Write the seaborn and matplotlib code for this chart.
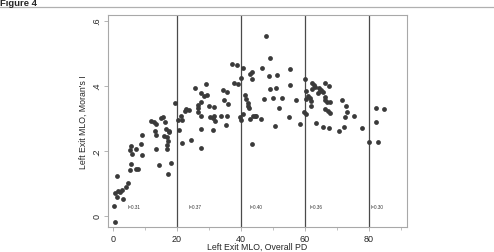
import matplotlib
matplotlib.use("Agg")
import matplotlib.pyplot as plt
import pandas as pd
import seaborn as sns
from matplotlib.lines import Line2D
from matplotlib.ticker import MultipleLocator

# Left Exit MLO: overall PD vs Moran's I
pd_vals = [
    0.5, 0.3, 1.1, 0.5, 1.4, 2.1, 2.8, 3.9, 4.5, 1.1, 3.1, 5.2, 7.0, 7.8, 5.5,
    5.8, 5.2, 5.5, 7.1, 8.7, 9.1, 8.9, 13.3, 14.4, 13.0, 13.3, 12.8, 13.3, 12.0,
    15.1, 15.6, 16.2, 15.9, 16.5, 16.7, 17.2, 16.7, 17.0, 18.0, 17.2, 17.6,
    19.3, 17.4,
    20.3, 21.2, 21.4, 20.5, 21.6, 24.5, 22.9, 23.8, 22.6, 25.5, 29.2, 27.6,
    28.4, 29.3, 27.4, 26.6, 26.6, 29.9, 31.6, 26.4, 27.4, 30.2, 31.1, 31.5,
    32.0, 33.7, 27.4, 31.1, 27.4, 34.4, 35.6, 34.7, 35.9, 35.6, 35.2, 37.3,
    38.9, 37.7, 39.1, 39.6,
    40.6, 42.7, 43.3, 43.4, 40.1, 41.2, 41.7, 42.1, 42.2, 42.5, 40.1, 40.6,
    42.9, 43.8, 44.3, 44.6, 43.4, 47.9, 49.2, 46.7, 48.8, 51.3, 55.4, 49.2,
    51.1, 55.2, 47.2, 50.0, 52.8, 57.3, 51.8, 55.0, 50.5, 58.6, 46.4, 59.7,
    60.1, 60.4, 62.2, 62.8, 62.2, 63.3, 64.3, 64.6, 65.1, 65.6, 66.2, 67.5,
    60.9, 61.5, 62.0, 64.1, 66.2, 66.4, 66.9, 68.0, 60.4, 62.0, 60.2, 66.2,
    67.2, 67.9, 71.7, 72.7, 73.1, 72.6, 75.3, 63.6, 65.6, 67.4, 70.8, 72.1,
    77.8,
    80.0, 82.8, 82.1, 84.8, 82.1,
]
morans_i = [
    -0.020, 0.031, 0.123, 0.070, 0.075, 0.074, 0.080, 0.089, 0.100, 0.057,
    0.051, 0.141, 0.144, 0.144, 0.159, 0.190, 0.203, 0.214, 0.205, 0.221,
    0.248, 0.187, 0.207, 0.156, 0.262, 0.248, 0.289, 0.282, 0.292, 0.300,
    0.303, 0.289, 0.246, 0.267, 0.241, 0.231, 0.218, 0.207, 0.161, 0.128,
    0.262, 0.346, 0.257,
    0.295, 0.308, 0.295, 0.265, 0.223, 0.234, 0.328, 0.326, 0.323, 0.392,
    0.405, 0.378, 0.369, 0.372, 0.351, 0.341, 0.330, 0.338, 0.335, 0.318,
    0.306, 0.303, 0.301, 0.306, 0.292, 0.308, 0.267, 0.265, 0.209, 0.388,
    0.382, 0.357, 0.345, 0.306, 0.279, 0.468, 0.464, 0.408, 0.405, 0.303,
    0.455, 0.436, 0.441, 0.421, 0.424, 0.372, 0.359, 0.347, 0.337, 0.330,
    0.295, 0.313, 0.298, 0.306, 0.308, 0.306, 0.221, 0.554, 0.485, 0.454,
    0.431, 0.433, 0.451, 0.390, 0.393, 0.403, 0.359, 0.362, 0.361, 0.357,
    0.331, 0.303, 0.277, 0.282, 0.298, 0.320,
    0.421, 0.385, 0.407, 0.402, 0.390, 0.395, 0.392, 0.385, 0.388, 0.382,
    0.408, 0.400, 0.367, 0.361, 0.354, 0.377, 0.364, 0.356, 0.349, 0.351,
    0.359, 0.338, 0.313, 0.328, 0.323, 0.315, 0.356, 0.337, 0.318, 0.303,
    0.306, 0.285, 0.272, 0.269, 0.260, 0.274, 0.269,
    0.226, 0.226, 0.331, 0.328, 0.287,
]

# PD cut points and Moran's I per band
cut_points = [20, 40, 60, 80]
band_labels = ["I=0.31", "I=0.37", "I=0.40", "I=0.36", "I=0.30"]
band_label_x = [4.6, 23.7, 42.7, 61.5, 80.5]

df = pd.DataFrame({"pd": pd_vals, "moran": morans_i})

sns.set_style("white")
plt.rcParams["font.family"] = ["Liberation Sans", "DejaVu Sans"]

fig = plt.figure(figsize=(4.94, 2.53), dpi=100)
ax = fig.add_axes([0.218, 0.0976, 0.605, 0.8392])

sns.scatterplot(data=df, x="pd", y="moran", ax=ax, color="#3a3a3a",
                s=12, linewidth=0, legend=False, zorder=3)

for c in cut_points:
    ax.axvline(c, color="#4a4a4a", lw=0.9, zorder=2)

for xt, lab in zip(band_label_x, band_labels):
    ax.text(xt, 0.03, lab, fontsize=3.3, va="center", ha="left", color="#333333")

ax.set_xlim(-1.7, 91.8)
ax.set_ylim(-0.035, 0.617)
ax.xaxis.set_major_locator(MultipleLocator(20))
ax.xaxis.set_minor_locator(MultipleLocator(10))
ax.set_yticks([0, 0.2, 0.4, 0.6])
ax.set_yticklabels(["0", ".2", ".4", ".6"], rotation=90, va="center")

for s in ax.spines.values():
    s.set_color("#a8a8a8")
    s.set_linewidth(0.8)

ax.tick_params(axis="both", which="major", direction="out", length=3,
               width=0.6, color="#a8a8a8", labelsize=6.5, pad=1.5,
               bottom=True, left=True)
ax.tick_params(axis="x", which="minor", direction="out", length=2,
               width=0.5, color="#a8a8a8", bottom=True)

ax.set_xlabel("Left Exit MLO, Overall PD", fontsize=6.3, labelpad=-0.5)
ax.set_ylabel("Left Exit MLO, Moran's I", fontsize=6.3, labelpad=3)

# header line and caption
fig.add_artist(Line2D([0, 1], [1 - 8 / 253, 1 - 8 / 253], color="#b0b0b0",
                      lw=0.9, transform=fig.transFigure))
fig.text(0.0, 1 - 6 / 253, "Figure 4", fontsize=6.8, fontweight="bold",
         va="baseline", ha="left")

fig.savefig("out.png", dpi=100)
